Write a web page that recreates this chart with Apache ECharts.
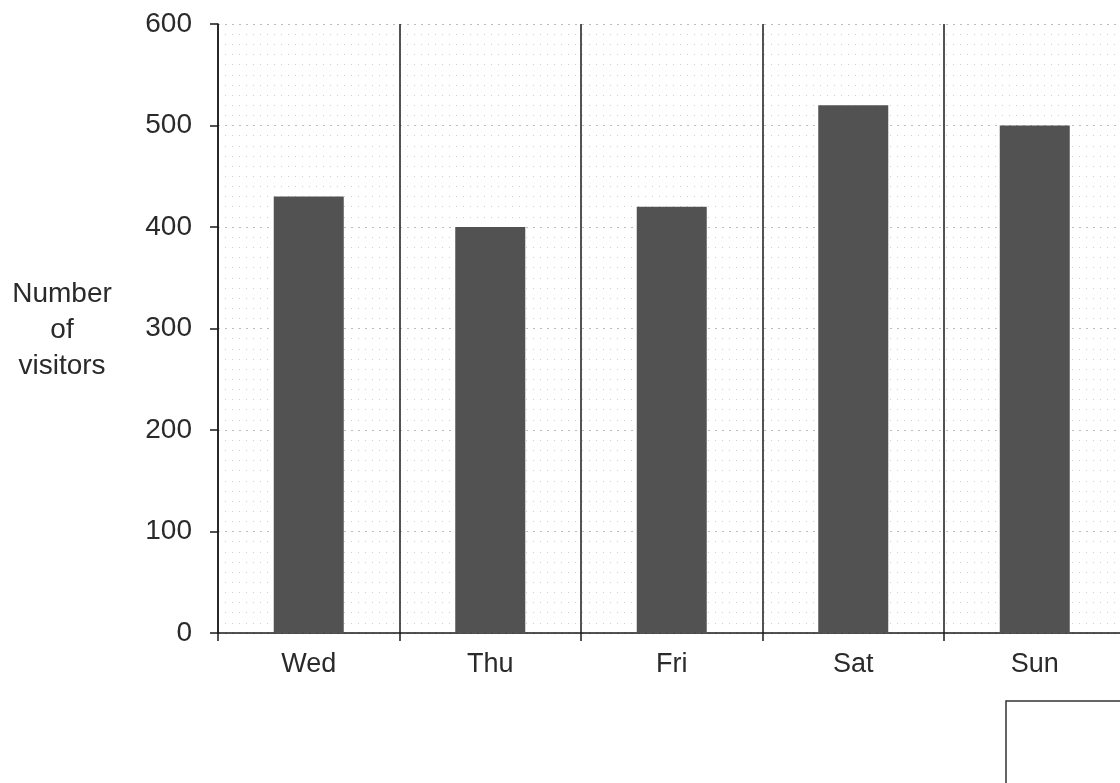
<!DOCTYPE html>
<html>
<head>
<meta charset="utf-8">
<script src="https://cdn.jsdelivr.net/npm/echarts@6/dist/echarts.min.js"></script>
<style>
html,body{margin:0;padding:0;background:#fff;}
#c{width:1120px;height:783px;}
</style>
</head>
<body>
<div id="c"></div>
<script>
var categories = ['Wed', 'Thu', 'Fri', 'Sat', 'Sun', 'Mon'];
var visitors = [430, 400, 420, 520, 500, null];
var yTicks = [0, 100, 200, 300, 400, 500, 600];
var yTitle = 'Number\nof\nvisitors';

var chart = echarts.init(document.getElementById('c'), null, {renderer: 'canvas'});
var textColor = '#2a2a2a';
var font = '"Liberation Sans", Arial, sans-serif';
chart.setOption({
  animation: false,
  backgroundColor: '#ffffff',
  grid: {left: 218, top: 24, width: 1089, height: 609, outerBoundsMode: 'none', containLabel: false},
  xAxis: {
    type: 'category',
    data: categories,
    boundaryGap: true,
    axisLine: {show: true, lineStyle: {color: '#1a1a1a', width: 1.5}},
    axisTick: {show: true, interval: 0, length: 8, lineStyle: {color: '#1a1a1a', width: 1.5}},
    axisLabel: {interval: 0, margin: 18, fontSize: 27, color: textColor, fontFamily: font},
    splitLine: {show: true, interval: 0, lineStyle: {color: '#1a1a1a', width: 1.5}}
  },
  yAxis: {
    type: 'value',
    min: yTicks[0],
    max: yTicks[yTicks.length - 1],
    interval: 100,
    axisLine: {show: true, lineStyle: {color: '#1a1a1a', width: 1.5}},
    axisTick: {show: true, length: 8, lineStyle: {color: '#1a1a1a', width: 1.5}},
    axisLabel: {margin: 26, fontSize: 28, color: textColor, fontFamily: font},
    splitLine: {show: true, lineStyle: {color: '#bdbdbd', width: 1, type: [2, 5]}},
    minorTick: {show: false, splitNumber: 10},
    minorSplitLine: {show: true, lineStyle: {color: '#cfcfcf', width: 1, type: [1, 6]}}
  },
  series: [{
    type: 'bar',
    data: visitors,
    barWidth: 70,
    itemStyle: {color: '#525252'}
  }],
  graphic: [
    {
      type: 'text',
      x: 62,
      y: 276,
      style: {
        text: yTitle,
        textAlign: 'center',
        fontSize: 28,
        lineHeight: 36,
        fill: textColor,
        fontFamily: font
      }
    },
    {
      type: 'rect',
      shape: {x: 1006, y: 701, width: 200, height: 150},
      style: {fill: 'none', stroke: '#333', lineWidth: 1.5}
    }
  ]
});
</script>
</body>
</html>
